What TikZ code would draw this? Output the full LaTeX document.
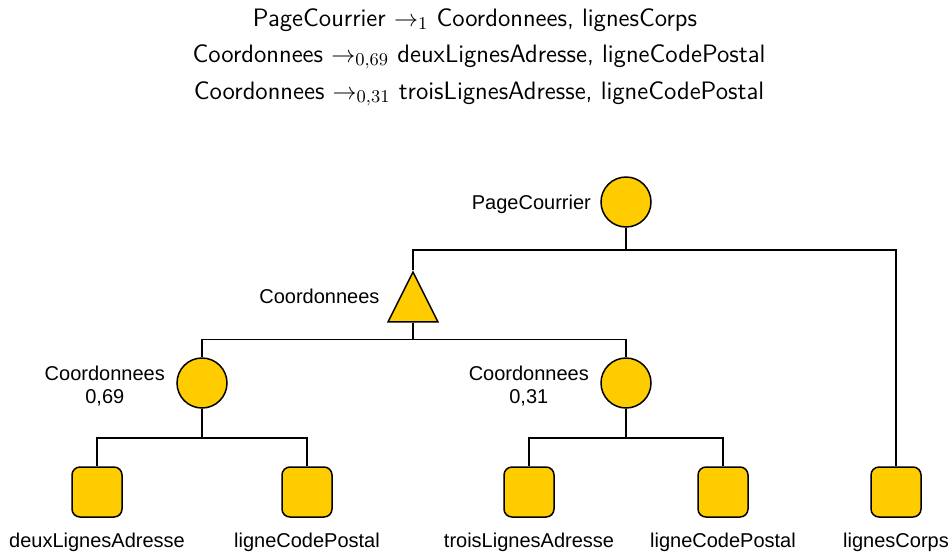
\documentclass[tikz,border=0pt]{standalone}
\usepackage{amsmath,amssymb}
\usepackage{fontspec}
\newfontfamily\arialfont{Liberation Sans}
\usepackage{tikz}
\usetikzlibrary{shapes.geometric,positioning,calc}
\definecolor{jaune}{RGB}{255,204,0}

\begin{document}
\begin{tikzpicture}[x=0.5pt,y=-0.5pt, line width=0.75pt,
      conj/.style={circle,draw=black,fill=jaune,minimum size=25pt,inner sep=0pt},
      alt/.style={isosceles triangle,isosceles triangle stretches,shape border rotate=90,
        draw=black,fill=jaune,minimum width=25pt,minimum height=25pt,inner sep=0pt},
      leaf/.style={rectangle,rounded corners=4pt,draw=black,fill=jaune,minimum size=25pt,inner sep=0pt},
      lbl/.style={font=\arialfont\fontsize{10}{11.5}\selectfont,align=center},
      rule/.style={font=\sffamily\fontsize{12.6}{14}\selectfont}]
      \useasboundingbox (0,0) rectangle (951,552);
      % grammar rules
      \node[rule] (r1) at (475,20) {PageCourrier $\rightarrow_1$ Coordonnees, lignesCorps};
      \node[rule] (r2) at (479,57) {Coordonnees $\rightarrow_{0,69}$ deuxLignesAdresse, ligneCodePostal};
      \node[rule] (r3) at (479,94) {Coordonnees $\rightarrow_{0,31}$ troisLignesAdresse, ligneCodePostal};
      % tree
      \node[conj,label={[lbl,label distance=1pt,yshift=-1pt]left:PageCourrier}] (page) at (626,202) {};
      \node[alt,anchor=apex,label={[lbl,label distance=4pt,yshift=5pt]left:Coordonnees}] (coord) at (413,270) {};
      \node[conj,label={[lbl,label distance=2pt,yshift=-1.5pt]left:{Coordonnees\\0,69}}] (c69) at (202,383) {};
      \node[conj,label={[lbl,label distance=2pt,yshift=-1.5pt]left:{Coordonnees\\0,31}}] (c31) at (626,383) {};
      \node[leaf,label={[lbl,label distance=4pt]below:deuxLignesAdresse}] (deux) at (97,492) {};
      \node[leaf,label={[lbl,label distance=4pt]below:ligneCodePostal}] (code1) at (307,492) {};
      \node[leaf,label={[lbl,label distance=4pt]below:troisLignesAdresse}] (trois) at (529,492) {};
      \node[leaf,label={[lbl,label distance=4pt]below:ligneCodePostal}] (code2) at (723,492) {};
      \node[leaf,label={[lbl,label distance=4pt]below:lignesCorps}] (corps) at (896,492) {};
      \draw (page.south) -- ++(0,22) -| (coord.apex);
      \draw (page.south) -- ++(0,22) -| (corps.north);
      \draw (coord.lower side) -- ++(0,17) -| (c69.north);
      \draw (coord.lower side) -- ++(0,17) -| (c31.north);
      \draw (c69.south) -- ++(0,29) -| (deux.north);
      \draw (c69.south) -- ++(0,29) -| (code1.north);
      \draw (c31.south) -- ++(0,29) -| (trois.north);
      \draw (c31.south) -- ++(0,29) -| (code2.north);
    \end{tikzpicture}
\end{document}
